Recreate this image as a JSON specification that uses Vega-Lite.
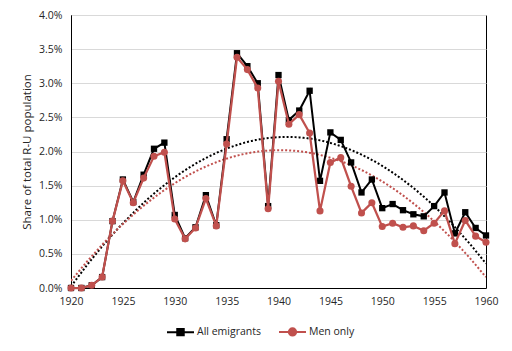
{
  "$schema": "https://vega.github.io/schema/vega-lite/v6.json",
  "width": 415,
  "height": 273,
  "autosize": {"type": "none"},
  "padding": {"left": 71, "top": 15, "right": 26, "bottom": 63},
  "background": "white",
  "config": {
    "font": "Open Sans",
    "view": {"stroke": "#000000", "strokeWidth": 1},
    "axis": {
      "labelFont": "Open Sans",
      "labelFontSize": 10.5,
      "labelColor": "#262626",
      "titleFont": "Open Sans",
      "titleFontSize": 11.5,
      "titleFontWeight": "normal",
      "titleColor": "#262626",
      "domainColor": "#000000",
      "ticks": false
    },
    "legend": {
      "labelFont": "Open Sans",
      "labelFontSize": 10.5,
      "labelColor": "#262626"
    }
  },
  "data": {
    "values": [
      {"year": 1920, "series": "All emigrants", "value": 0.0000},
      {"year": 1921, "series": "All emigrants", "value": 0.0000},
      {"year": 1922, "series": "All emigrants", "value": 0.0004},
      {"year": 1923, "series": "All emigrants", "value": 0.0016},
      {"year": 1924, "series": "All emigrants", "value": 0.0098},
      {"year": 1925, "series": "All emigrants", "value": 0.0159},
      {"year": 1926, "series": "All emigrants", "value": 0.0126},
      {"year": 1927, "series": "All emigrants", "value": 0.0166},
      {"year": 1928, "series": "All emigrants", "value": 0.0204},
      {"year": 1929, "series": "All emigrants", "value": 0.0213},
      {"year": 1930, "series": "All emigrants", "value": 0.0107},
      {"year": 1931, "series": "All emigrants", "value": 0.0073},
      {"year": 1932, "series": "All emigrants", "value": 0.0089},
      {"year": 1933, "series": "All emigrants", "value": 0.0136},
      {"year": 1934, "series": "All emigrants", "value": 0.0092},
      {"year": 1935, "series": "All emigrants", "value": 0.0218},
      {"year": 1936, "series": "All emigrants", "value": 0.0344},
      {"year": 1937, "series": "All emigrants", "value": 0.0325},
      {"year": 1938, "series": "All emigrants", "value": 0.0300},
      {"year": 1939, "series": "All emigrants", "value": 0.0120},
      {"year": 1940, "series": "All emigrants", "value": 0.0312},
      {"year": 1941, "series": "All emigrants", "value": 0.0246},
      {"year": 1942, "series": "All emigrants", "value": 0.0260},
      {"year": 1943, "series": "All emigrants", "value": 0.0289},
      {"year": 1944, "series": "All emigrants", "value": 0.0157},
      {"year": 1945, "series": "All emigrants", "value": 0.0228},
      {"year": 1946, "series": "All emigrants", "value": 0.0217},
      {"year": 1947, "series": "All emigrants", "value": 0.0184},
      {"year": 1948, "series": "All emigrants", "value": 0.0140},
      {"year": 1949, "series": "All emigrants", "value": 0.0159},
      {"year": 1950, "series": "All emigrants", "value": 0.0117},
      {"year": 1951, "series": "All emigrants", "value": 0.0123},
      {"year": 1952, "series": "All emigrants", "value": 0.0114},
      {"year": 1953, "series": "All emigrants", "value": 0.0108},
      {"year": 1954, "series": "All emigrants", "value": 0.0105},
      {"year": 1955, "series": "All emigrants", "value": 0.0120},
      {"year": 1956, "series": "All emigrants", "value": 0.0140},
      {"year": 1957, "series": "All emigrants", "value": 0.0080},
      {"year": 1958, "series": "All emigrants", "value": 0.0111},
      {"year": 1959, "series": "All emigrants", "value": 0.0088},
      {"year": 1960, "series": "All emigrants", "value": 0.0077},
      {"year": 1920, "series": "Men only", "value": 0.0000},
      {"year": 1921, "series": "Men only", "value": 0.0000},
      {"year": 1922, "series": "Men only", "value": 0.0004},
      {"year": 1923, "series": "Men only", "value": 0.0016},
      {"year": 1924, "series": "Men only", "value": 0.0098},
      {"year": 1925, "series": "Men only", "value": 0.0157},
      {"year": 1926, "series": "Men only", "value": 0.0125},
      {"year": 1927, "series": "Men only", "value": 0.0161},
      {"year": 1928, "series": "Men only", "value": 0.0193},
      {"year": 1929, "series": "Men only", "value": 0.0199},
      {"year": 1930, "series": "Men only", "value": 0.0101},
      {"year": 1931, "series": "Men only", "value": 0.0072},
      {"year": 1932, "series": "Men only", "value": 0.0088},
      {"year": 1933, "series": "Men only", "value": 0.0131},
      {"year": 1934, "series": "Men only", "value": 0.0091},
      {"year": 1935, "series": "Men only", "value": 0.0211},
      {"year": 1936, "series": "Men only", "value": 0.0338},
      {"year": 1937, "series": "Men only", "value": 0.0320},
      {"year": 1938, "series": "Men only", "value": 0.0293},
      {"year": 1939, "series": "Men only", "value": 0.0116},
      {"year": 1940, "series": "Men only", "value": 0.0303},
      {"year": 1941, "series": "Men only", "value": 0.0240},
      {"year": 1942, "series": "Men only", "value": 0.0254},
      {"year": 1943, "series": "Men only", "value": 0.0227},
      {"year": 1944, "series": "Men only", "value": 0.0113},
      {"year": 1945, "series": "Men only", "value": 0.0184},
      {"year": 1946, "series": "Men only", "value": 0.0191},
      {"year": 1947, "series": "Men only", "value": 0.0149},
      {"year": 1948, "series": "Men only", "value": 0.0110},
      {"year": 1949, "series": "Men only", "value": 0.0125},
      {"year": 1950, "series": "Men only", "value": 0.0090},
      {"year": 1951, "series": "Men only", "value": 0.0095},
      {"year": 1952, "series": "Men only", "value": 0.0089},
      {"year": 1953, "series": "Men only", "value": 0.0091},
      {"year": 1954, "series": "Men only", "value": 0.0084},
      {"year": 1955, "series": "Men only", "value": 0.0095},
      {"year": 1956, "series": "Men only", "value": 0.0113},
      {"year": 1957, "series": "Men only", "value": 0.0065},
      {"year": 1958, "series": "Men only", "value": 0.0099},
      {"year": 1959, "series": "Men only", "value": 0.0076},
      {"year": 1960, "series": "Men only", "value": 0.0067}
    ]
  },
  "encoding": {
    "x": {
      "field": "year",
      "type": "quantitative",
      "scale": {"domain": [1920, 1960], "nice": false, "zero": false},
      "axis": {"values": [1920, 1925, 1930, 1935, 1940, 1945, 1950, 1955, 1960], "format": "d", "title": null, "grid": false, "labelPadding": 8, "labelFlush": false}
    },
    "y": {
      "field": "value",
      "type": "quantitative",
      "scale": {"domain": [0, 0.04], "nice": false},
      "axis": {"values": [0, 0.005, 0.01, 0.015, 0.02, 0.025, 0.03, 0.035, 0.04], "format": ".1%", "title": "Share of total R-U population", "titlePadding": 6, "labelPadding": 9, "grid": true, "gridColor": "#D9D9D9", "labelFlush": false}
    },
    "color": {
      "field": "series",
      "type": "nominal",
      "scale": {"domain": ["All emigrants", "Men only"], "range": ["#000000", "#C0504D"]},
      "legend": {
        "title": null,
        "orient": "none",
        "legendX": 95,
        "legendY": 302,
        "direction": "horizontal",
        "padding": 0,
        "columnPadding": 14,
        "labelOffset": 2,
        "symbolSize": 729,
        "encode": {
          "symbols": {
            "update": {
              "shape": {"signal": "datum.value === 'All emigrants' ? 'M-1,0H1M-0.24,-0.24H0.24V0.24H-0.24Z' : 'M-1,0H1M0.27,0A0.27,0.27,0,1,1,-0.27,0A0.27,0.27,0,1,1,0.27,0Z'"},
              "fill": {"signal": "datum.value === 'All emigrants' ? '#000000' : '#C0504D'"},
              "stroke": {"signal": "datum.value === 'All emigrants' ? '#000000' : '#C0504D'"},
              "strokeWidth": {"value": 2},
              "strokeDash": {"value": []},
              "opacity": {"value": 1},
              "size": {"value": 729}
            }
          }
        }
      }
    }
  },
  "layer": [
    {
      "transform": [
        {"regression": "value", "on": "year", "groupby": ["series"], "method": "poly", "order": 2, "extent": [1920, 1960]}
      ],
      "mark": {"type": "line", "strokeDash": [2, 2], "strokeWidth": 2, "clip": true}
    },
    {
      "transform": [{"filter": "datum.series === 'All emigrants'"}],
      "mark": {"type": "line", "strokeWidth": 2, "point": {"filled": true, "shape": "square", "size": 40, "opacity": 1}}
    },
    {
      "transform": [{"filter": "datum.series === 'Men only'"}],
      "mark": {"type": "line", "strokeWidth": 2.25, "point": {"filled": true, "shape": "circle", "size": 50, "opacity": 1}}
    }
  ]
}
